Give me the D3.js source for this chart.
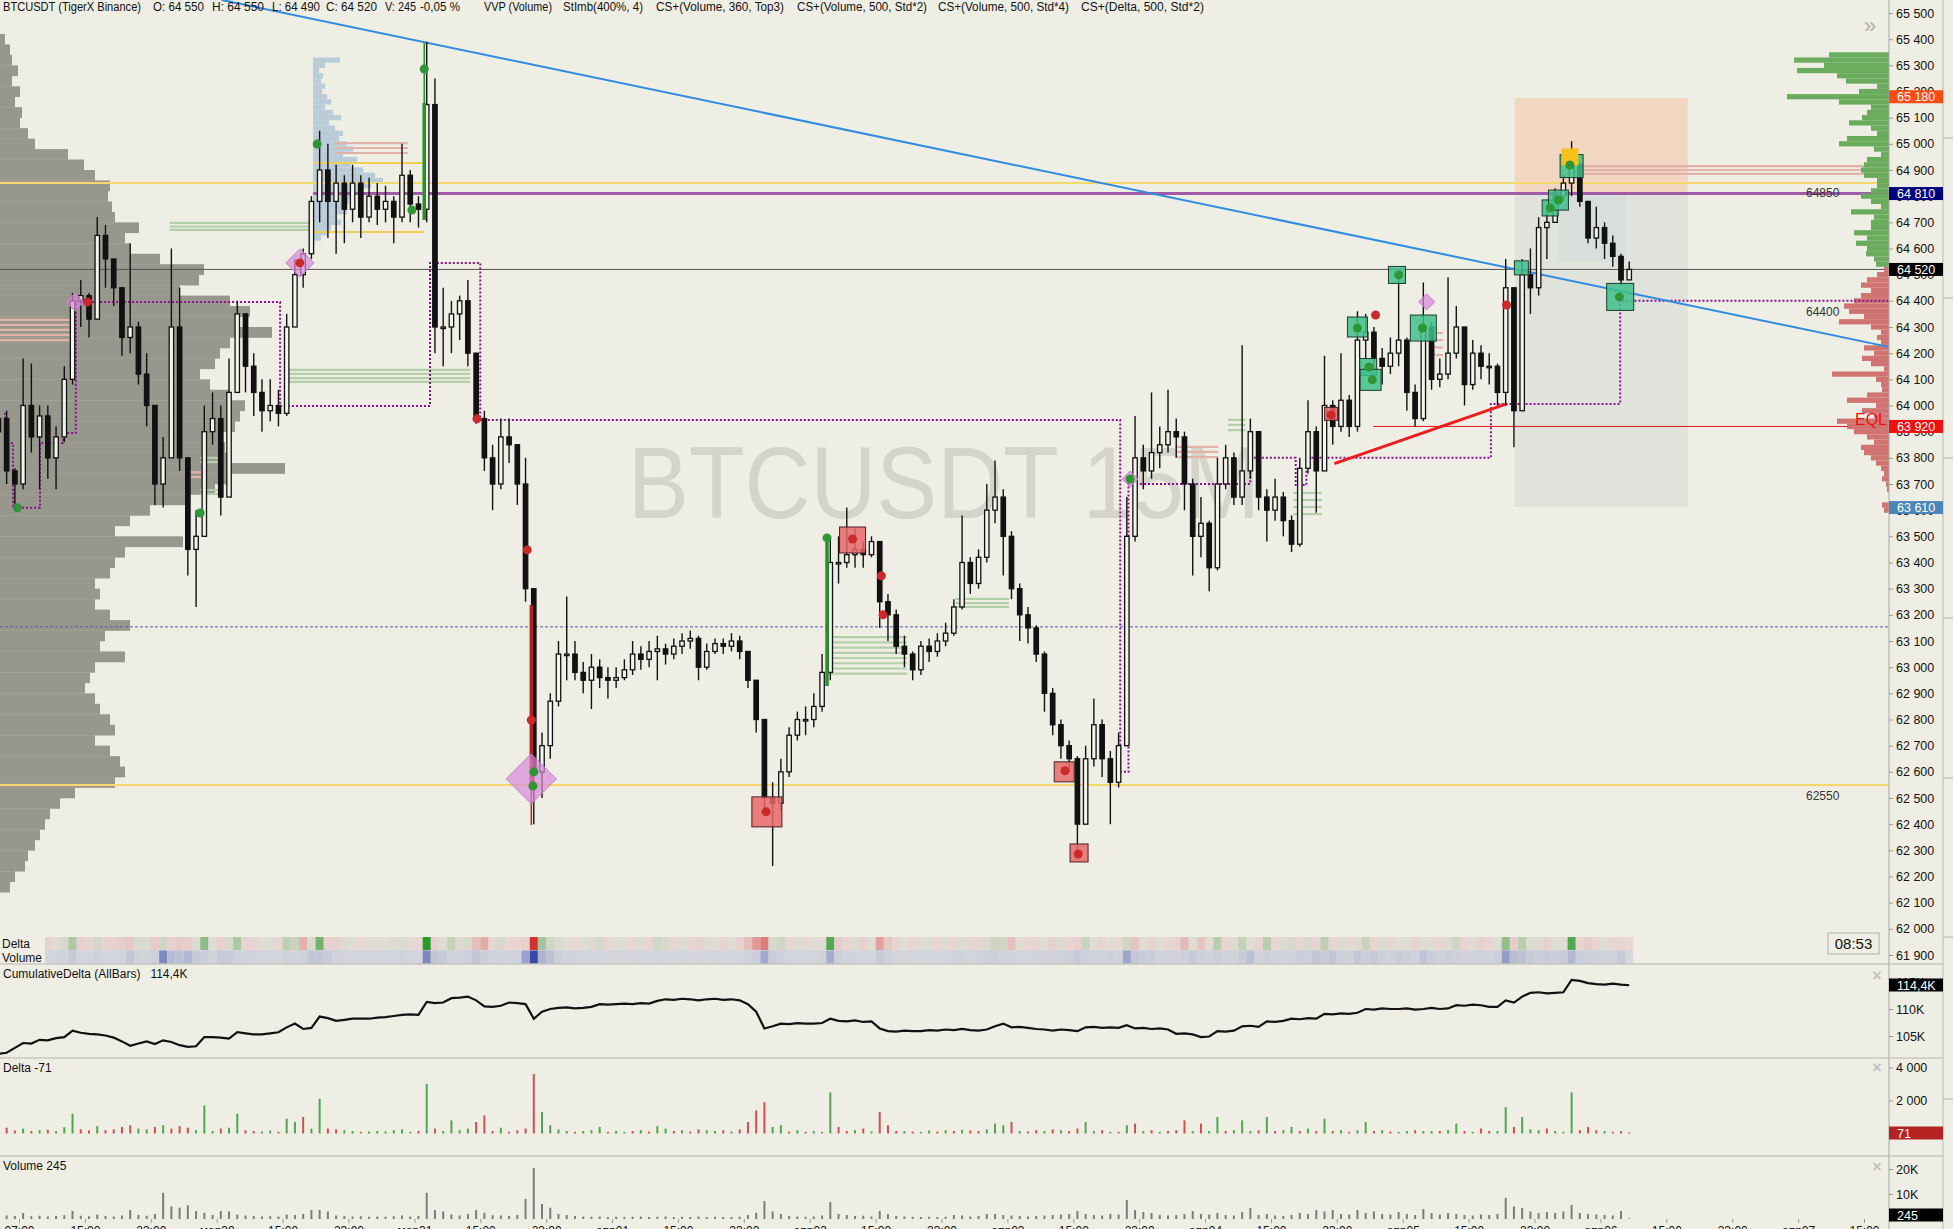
<!DOCTYPE html>
<html><head><meta charset="utf-8">
<script src="https://cdn.jsdelivr.net/npm/d3@7"></script>
<style>html,body{margin:0;padding:0;background:#efeee4;overflow:hidden}text{font-family:"Liberation Sans",Arial,sans-serif}</style>
</head><body>
<svg id="c" width="1953" height="1229"></svg>
<script>
// ---------------- DATA (hourly bars) ----------------
const closes = [63950,63750,63700,64000,63880,63960,63800,63880,64100,64400,
64420,64330,64650,64560,64450,64260,64300,64120,64000,63700,
63800,64300,63800,63450,63500,63900,63950,63650,64050,64350,
64150,64050,63980,64000,63970,64300,64500,64580,64780,64900,
64780,64850,64750,64850,64720,64800,64750,64780,64720,64880,
64770,64750,65150,64300,64300,64350,64400,64200,63950,63800,
63700,63880,63850,63700,63300,62600,62700,62870,63050,63050,
62980,62950,63000,62960,62950,62960,62990,63050,63030,63060,
63070,63050,63080,63100,63110,63000,63060,63090,63080,63100,
63060,62950,62800,62500,62480,62600,62740,62800,62800,62850,
62980,63400,63400,63430,63450,63430,63480,63250,63200,63080,
63050,62990,63080,63060,63100,63130,63230,63400,63320,63420,
63600,63650,63500,63300,63200,63150,63050,62900,62780,62700,
62650,62400,62650,62780,62650,62560,62700,63500,63800,63750,
63820,63850,63900,63880,63700,63500,63550,63380,63700,63800,
63650,63750,63900,63650,63600,63650,63560,63470,63760,63900,
63750,64000,63920,64020,63920,64250,64280,64180,64150,64200,
64250,64050,63950,64300,64100,64120,64200,64300,64080,64200,
64150,64150,64050,64450,63980,64500,64450,64680,64700,64800,
64850,64920,64780,64640,64680,64620,64570,64480,64520];
const highs = [64000,63980,63760,64180,64160,64000,64000,63920,64150,64430,
64480,64430,64720,64690,64550,64450,64620,64320,64200,64000,
63880,64600,64450,63750,63600,64000,64050,64000,64180,64400,
64350,64200,64100,64100,64060,64350,64560,64600,64800,65050,
65000,64920,64880,64920,64880,64870,64850,64840,64800,65000,
64900,64800,65390,65250,64450,64400,64420,64480,64200,63980,
63850,63950,63950,63830,63800,63250,62750,62900,63100,63270,
63100,63020,63050,63030,63000,63000,63030,63100,63080,63100,
63120,63090,63110,63130,63140,63120,63090,63110,63110,63130,
63120,63060,62950,62800,62560,62650,62770,62830,62850,62900,
63050,63500,63500,63610,63530,63480,63500,63480,63280,63220,
63120,63060,63100,63110,63130,63170,63260,63580,63420,63450,
63700,63790,63680,63520,63320,63230,63160,63060,62920,62800,
62720,62660,62700,62880,62800,62680,62750,63650,63960,63850,
64050,63920,64060,63950,63900,63720,63650,63560,63800,63850,
63820,64230,63950,63900,63680,63720,63670,63580,63800,64020,
63920,64190,64020,64200,64040,64360,64350,64300,64220,64260,
64500,64260,64080,64470,64320,64180,64490,64380,64300,64250,
64230,64200,64160,64560,64450,64560,64600,64720,64740,64830,
64880,65010,64930,64780,64760,64700,64650,64580,64550];
const lows = [63880,63700,63610,63680,63820,63680,63720,63680,63860,64080,
64300,64260,64330,64450,64380,64190,64200,64080,63920,63620,
63610,63800,63750,63350,63230,63500,63850,63580,63650,64050,
64050,63960,63900,63940,63920,63960,64300,64450,64560,64700,
64640,64580,64620,64700,64640,64700,64690,64700,64620,64700,
64700,64680,64700,64200,64150,64200,64250,64150,63930,63750,
63600,63680,63780,63620,63250,62400,62500,62650,62850,62950,
62950,62900,62840,62920,62880,62920,62950,62970,62990,63000,
62950,63010,63030,63050,63070,62950,62990,63050,63050,63060,
63030,62920,62750,62450,62240,62450,62580,62720,62740,62770,
62830,62950,63320,63380,63380,63380,63420,63150,63100,63050,
63000,62950,62970,63020,63040,63080,63120,63220,63280,63300,
63400,63550,63350,63260,63100,63090,63020,62830,62740,62650,
62600,62270,62450,62620,62580,62400,62540,62700,63480,63680,
63720,63760,63820,63800,63600,63350,63420,63290,63370,63680,
63620,63620,63720,63600,63480,63560,63500,63440,63460,63740,
63590,63750,63850,63900,63880,63900,64180,64100,64080,64120,
64150,63980,63920,63940,64060,64070,64100,64180,64000,64060,
64100,64080,64000,64000,63840,63980,64350,64420,64560,64700,
64780,64800,64760,64620,64600,64560,64530,64460,64490];
const cumDelta = [101.7,101.9,102.8,103.7,103.6,104.3,104.2,104.6,104.8,106.0,
105.6,105.4,105.3,105.1,104.7,104.0,103.2,103.6,104.0,103.5,
104.2,103.9,103.3,103.0,103.1,104.8,104.8,104.7,104.5,105.7,
105.5,105.3,105.3,105.5,105.7,106.6,107.3,106.3,106.5,108.6,
108.3,107.8,108.0,108.2,108.2,108.2,108.4,108.5,108.7,108.9,
109.0,108.9,111.3,111.1,111.2,112.0,112.1,112.3,111.6,110.5,
110.4,110.6,111.2,111.1,110.9,108.2,109.5,110.0,110.2,110.3,
110.1,110.2,110.4,110.9,110.8,110.9,111.0,110.9,111.1,111.0,
111.5,111.8,111.7,111.9,111.8,111.6,111.8,111.9,111.7,111.8,
111.6,110.9,109.5,106.4,106.8,107.3,107.2,107.4,107.3,107.3,
107.4,108.2,107.8,107.7,107.9,107.6,107.7,106.4,105.9,105.8,
106.0,105.9,105.9,106.1,106.0,106.2,106.1,106.3,106.1,106.0,
106.2,106.8,107.3,106.6,106.7,106.5,106.3,106.2,106.0,106.2,
106.1,105.9,106.6,106.7,106.5,106.6,106.5,107.0,106.4,106.5,
106.3,106.4,106.2,105.4,105.5,105.3,104.8,104.9,105.9,105.8,
106.0,106.8,106.9,106.7,107.7,107.6,107.8,108.2,108.1,108.3,
108.2,109.1,109.0,109.2,109.1,109.3,110.0,109.9,110.1,110.0,
110.0,110.1,109.9,110.0,110.2,110.0,110.1,110.7,110.6,110.8,
110.7,110.4,110.4,111.6,111.2,112.3,113.0,113.1,112.9,113.0,
113.1,115.4,115.2,114.8,114.6,114.5,114.7,114.5,114.4];
const deltas = [-120,-350,-180,300,-150,200,-220,150,380,1200,
-250,-180,450,-200,-250,-400,-500,300,250,-400,
500,-300,-450,-350,200,1700,150,-300,350,1200,
-200,-150,120,180,-100,900,700,-1000,300,2100,
-300,-250,200,150,-100,120,150,130,200,250,
100,-150,3000,-300,150,800,200,300,-700,-1100,
-150,350,-100,-200,-300,-3600,1300,500,250,150,
-100,150,200,400,-100,150,100,-150,200,-120,
450,300,-150,200,-120,-250,200,150,-200,120,
-250,-700,-1400,-1900,400,500,-120,200,-100,150,
100,2500,-400,-150,200,-300,130,-1300,-500,-150,
150,-120,100,180,-120,200,-150,220,-180,-150,
250,600,500,-700,150,-120,-200,150,-250,200,
-150,-300,700,150,-200,100,-100,500,-600,150,
-200,100,-150,-200,-800,150,-600,150,1000,-150,
200,800,150,-200,1000,-150,200,400,-150,300,
-150,900,-150,200,-100,200,700,-150,200,-120,
100,150,-200,150,150,-150,200,600,-150,100,
-300,-150,150,1600,-400,1000,250,200,-300,150,
100,2500,-200,-400,-200,150,-100,-150,-71];
const volumes = [1.0,1.4,1.2,2.4,1.1,1.3,1.0,1.2,1.5,3.2,
1.3,1.1,1.8,1.2,1.0,1.4,3.6,1.6,1.3,2.0,
10.5,5.0,4.5,5.5,3.2,2.5,1.6,3.2,3.0,1.8,
1.4,1.2,1.0,1.1,1.0,1.8,1.6,2.0,3.6,3.6,
3.0,1.4,1.2,1.0,1.1,0.9,1.0,0.9,1.1,1.4,
1.0,1.2,10.5,3.6,3.0,1.8,1.4,2.0,3.6,2.5,
1.5,1.4,1.2,1.6,8.0,20.4,6.0,4.5,2.0,1.6,
1.2,1.0,0.9,1.0,0.8,0.9,0.8,0.9,1.0,0.8,
0.9,1.0,0.8,0.9,0.8,1.0,0.8,0.9,0.8,0.8,
0.9,1.6,2.5,7.2,3.0,2.0,1.2,1.0,0.9,1.0,
1.4,6.8,2.0,1.6,1.2,1.3,1.0,3.2,2.0,1.2,
1.0,0.9,0.8,0.9,0.8,0.9,1.6,1.4,1.0,1.2,
2.0,2.0,1.6,1.4,1.2,1.0,1.2,1.4,1.6,1.8,
2.0,3.2,2.0,1.6,1.4,2.0,1.8,7.6,3.6,2.8,
2.4,1.6,1.4,1.6,2.0,3.2,2.0,1.8,2.4,1.6,
1.4,2.8,4.4,1.6,2.0,1.4,1.2,1.6,2.4,2.0,
3.6,3.0,3.6,2.0,1.8,3.6,2.4,3.0,2.0,1.8,
2.8,2.0,1.6,4.0,2.4,1.8,2.4,2.0,1.6,1.4,
1.8,1.6,2.0,8.4,5.0,4.4,3.0,2.4,2.8,2.4,
3.0,5.6,2.4,2.0,1.8,1.6,1.4,3.2,0.245];

// composite (left) volume profile, 40-point rows from 65420 downwards
const leftProfile = [5,10,12,18,12,20,15,22,20,28,35,68,84,95,110,108,112,115,139,125,
130,160,204,199,180,230,250,240,272,230,220,215,200,210,230,245,240,235,220,225,
230,285,230,215,185,150,130,115,183,125,115,110,95,100,95,110,130,105,100,125,
95,90,85,95,100,110,115,95,110,120,125,115,75,60,50,45,40,35,28,25,15,10];
// session profile (right), 20-point rows
const profileBuy = [60,95,65,92,52,43,12,30,102,50,18,22,27,40,18,12,42,50,15,8,22,25,28,25,12,12,18,28,18,8,38,15,18,18,35,22,33,22,23,15,13];
const profileSell = [5,12,22,28,18,28,35,45,40,25,50,18,8,12,8,25,15,27,18,5,57,13,8,7,22,42,13,27,15,52,42,35,22,15,28,25,18,13,8,5,7,3,2,0,0,7,5];
// small profile of the consolidation range (20-point rows from 65320)
const rangeProfile = [27,12,6,10,8,12,9,14,18,12,20,28,16,22,30,26,34,40,30,44,38,50,62,70,58,46,40,36,30,34,24,28,18,14,8];

const priceTicks = d3.range(61900, 65501, 100);
const tickLabels = ["07:00","15:00","23:00","мар30","15:00","23:00","мар31","15:00","23:00","апр01","15:00","23:00","апр02","15:00","23:00","апр03","15:00","23:00","апр04","15:00","23:00","апр05","15:00","23:00","апр06","15:00","23:00","апр07","15:00"];

// levels
const levelYellow = [64850, 62550];
const levelPurple = 64810;
const levelLast = 64520;
const levelDashed = 63154;
const levelEQL = 63920;
const levelLabels = [["64850",64850],["64400",64400],["62550",62550]];
const priceBadges = [[65180,"65 180","#ff4b14"],[64810,"64 810","#00007e"],[64520,"64 520","#000000"],[63920,"63 920","#ee1111"],[63610,"63 610","#4a86b8"]];

// drawings (bar index, price)
const trendBlue = [[27.1,65550],[229.5,64224]];
const trendRed = [[162.2,63778],[183.1,64006]];
const stair = [[0.8,63972],[0.8,63857],[1.77,63857],[1.77,63609],[5.05,63609],[5.05,63857],[7.85,63857],[7.85,63895],[9.4,63895],[9.4,64396],[34.2,64396],[34.2,63998],[52.4,63998],[52.4,64545],[58.5,64545],[58.5,63945],[136.2,63945],[136.2,62600],[137.2,62600],[137.2,63700],[152,63700],[152,63800],[157.5,63800],[157.5,63696],[158.8,63696],[158.8,63800],[181.2,63800],[181.2,64006],[196.9,64006],[196.9,64400],[229.5,64400]];
const zoneTarget = [184.1,205.1,65175,64808];
const zoneRisk = [184.1,205.1,64808,63612];
const zoneInner = [189.4,197.6,64808,64549];
const imbalanceBuy = [[20.8,38.2,[64698,64684,64671]],[35,57.3,[64136,64121,64105,64090]],[100.6,110.3,[63115,63095,63075,63055,63035,63015,62995,62975]],[116.2,122.7,[63261,63245,63230]],[149.3,151.4,[63945,63926,63906]],[157.2,160.7,[63666,63639,63612,63585]],[24.5,27.2,[63800,63784,63677,63662]]];
const imbalanceSell = [[0,8.7,[64327,64308,64289,64270,64250]],[40.9,49.7,[65003,64984,64965]],[142.9,148.1,[63842,63823,63803]],[173.8,175.4,[64277,64250,64222,64193]],[192.1,229.5,[64915,64900,64885]],[22.8,24.6,[63745,63727]]];
const vaLines = [38.2,51.7,[64927,64663]];
const clusterBars = [[51.7,64709,65156,65385,"up"],[64.7,63238,62535,62397,"down"],[100.6,62928,63498,63498,"up"]];
const boxesSell = [[93.3,62447,30],[103.7,63486,26],[129.4,62600,20],[131.2,62290,18],[161.8,63968,13]];
const boxesBuy = [[165,64300,20],[166.3,64147,17],[166.6,64098,21],[169.8,64499,17],[173,64296,26],[188.4,64755,16],[189.4,64785,20],[191,64915,23],[196.9,64415,27],[184.9,64526,14]];
const boxMax = [190.8,64950,17];
const diamonds = [[9.3,64396,9],[36.6,64545,14],[64.7,62573,25],[137.4,63719,8],[173.4,64396,8]];
const dotsBuy = [[2.3,63609],[24.5,63589],[38.7,64999],[50.2,64747],[51.7,65286],[65,62600],[64.9,62546],[100.6,63494],[137.4,63719],[165,64296],[166.4,64147],[166.8,64098],[170,64499],[172.9,64296],[188.4,64755],[189.4,64785],[190.8,64919],[196.8,64415]];
const dotsSell = [[10.8,64396],[36.6,64545],[58.1,63949],[64.2,63448],[64.7,62798],[93.2,62447],[103.7,63490],[107.2,63349],[107.4,63200],[129.5,62604],[131.1,62286],[161.8,63964],[167.2,64346],[183.1,64384]];

const header = [["BTCUSDT (TigerX Binance)",3,138],["O: 64 550",153,51],["H: 64 550",212,52],["L: 64 490",272,48],["C: 64 520",326,51],["V: 245",385,31],["-0,05 %",420,40],["VVP (Volume)",484,68],["StImb(400%, 4)",563,80],["CS+(Volume, 360, Top3)",656,128],["CS+(Volume, 500, Std*2)",797,130],["CS+(Volume, 500, Std*4)",938,131],["CS+(Delta, 500, Std*2)",1081,123]];

// ---------------- SCALES ----------------
const W=1953,H=1229,AX=1889,MAINB=963;
const svg=d3.select('#c');
const t0=Date.UTC(2024,2,29,7), hour=3600e3;
const x=d3.scaleUtc().domain([new Date(t0),new Date(t0+224*hour)]).range([19,1864]);
const barStart=Date.UTC(2024,2,29,4,30);
const xi=i=>x(new Date(barStart+i*hour));
const y=d3.scaleLinear().domain([61900,65500]).range([955,13]);
const yCD=d3.scaleLinear().domain([105,110]).range([1036,1009]);
const yD=d3.scaleLinear().domain([0,4000]).range([1133.5,1067.5]);
const yV=d3.scaleLinear().domain([0,20]).range([1219,1169]);
const pw=d3.scaleLinear().domain([0,100]).range([0,100]);
const fmt=d3.formatLocale({decimal:",",thousands:"\u00a0",grouping:[3],currency:["",""]}).format(",");

svg.append('rect').attr('width',W).attr('height',H).attr('fill','#efeee4');
const defs=svg.append('defs');
defs.append('clipPath').attr('id','cm').append('rect').attr('x',0).attr('y',0).attr('width',AX).attr('height',MAINB);
defs.append('clipPath').attr('id','cl').append('rect').attr('x',0).attr('y',964).attr('width',AX).attr('height',255);
const g=svg.append('g').attr('clip-path','url(#cm)');

// zones
const zr=(z,f)=>g.append('rect').attr('x',xi(z[0])).attr('width',xi(z[1])-xi(z[0])).attr('y',y(z[2])).attr('height',y(z[3])-y(z[2])).attr('fill',f);
zr(zoneTarget,'#f1d6c1'); zr(zoneRisk,'#dfe3dc'); zr(zoneInner,'#d7dedb');

// left composite profile
g.selectAll('.lp').data(leftProfile).join('rect').attr('x',0).attr('y',(d,k)=>y(65420-40*k)).attr('width',d=>pw(d)).attr('height',(d,k)=>y(65420-40*k-40)-y(65420-40*k)+0.3).attr('fill','#97978d');

// range profile (light blue)
g.selectAll('.rp').data(rangeProfile).join('rect').attr('x',xi(38.2)).attr('y',(d,k)=>y(65330-20*k)).attr('width',d=>pw(d)).attr('height',(d,k)=>y(65310-20*k)-y(65330-20*k)).attr('fill','#b4c8d6').attr('opacity',0.9);

// watermark
g.append('text').attr('x',628).attr('y',518).attr('font-size',102).attr('fill','#d4d4ca').attr('textLength',632).attr('lengthAdjust','spacingAndGlyphs').text('BTCUSDT 15M');

// levels
levelYellow.forEach(p=>g.append('line').attr('x1',0).attr('x2',AX).attr('y1',y(p)).attr('y2',y(p)).attr('stroke','#f3d86a').attr('stroke-width',2));
g.append('line').attr('x1',xi(38.2)).attr('x2',AX).attr('y1',y(levelPurple)).attr('y2',y(levelPurple)).attr('stroke','#a15aa6').attr('stroke-width',3);
g.append('line').attr('x1',0).attr('x2',AX).attr('y1',y(levelLast)).attr('y2',y(levelLast)).attr('stroke','#555').attr('stroke-width',1);
g.append('line').attr('x1',0).attr('x2',AX).attr('y1',y(levelDashed)).attr('y2',y(levelDashed)).attr('stroke','#5d5aa8').attr('stroke-width',1).attr('stroke-dasharray','3,2');
g.append('line').attr('x1',xi(166.9)).attr('x2',AX).attr('y1',y(levelEQL)).attr('y2',y(levelEQL)).attr('stroke','#e01818').attr('stroke-width',1);

// imbalance lines
const imb=(arr,col)=>arr.forEach(([a,b,ps])=>ps.forEach(p=>g.append('line').attr('x1',xi(a)).attr('x2',xi(b)).attr('y1',y(p)).attr('y2',y(p)).attr('stroke',col).attr('stroke-width',2.2)));
imb(imbalanceBuy,'#b3cfa8'); imb(imbalanceSell,'#e0b2a8');
vaLines[2].forEach(p=>g.append('line').attr('x1',xi(vaLines[0])).attr('x2',xi(vaLines[1])).attr('y1',y(p)).attr('y2',y(p)).attr('stroke','#f0d050').attr('stroke-width',2));

// right session profile
g.selectAll('.pb').data(profileBuy).join('rect').attr('x',d=>AX-pw(d)).attr('y',(d,k)=>y(65350-20*k)).attr('width',d=>pw(d)).attr('height',(d,k)=>y(65330-20*k)-y(65350-20*k)).attr('fill','#6aab5e');
g.selectAll('.ps').data(profileSell).join('rect').attr('x',d=>AX-pw(d)).attr('y',(d,k)=>y(64530-20*k)).attr('width',d=>pw(d)).attr('height',(d,k)=>y(64510-20*k)-y(64530-20*k)).attr('fill','#cf7470');

// staircase
const ln=d3.line().x(d=>xi(d[0])).y(d=>y(d[1]));
g.append('path').attr('d',ln(stair)).attr('fill','none').attr('stroke','#8a1290').attr('stroke-width',2).attr('stroke-dasharray','2,2');

// trendlines
g.append('path').attr('d',ln(trendBlue)).attr('stroke','#2f8be2').attr('stroke-width',2).attr('fill','none');
g.append('path').attr('d',ln(trendRed)).attr('stroke','#ee1c1c').attr('stroke-width',3).attr('fill','none');

// candles
const bars=closes.map((c,i)=>({i,o:i?closes[i-1]:63900,c,h:highs[i],l:lows[i]}));
const cg=g.append('g');
cg.selectAll('.w').data(bars).join('line').attr('x1',d=>xi(d.i)).attr('x2',d=>xi(d.i)).attr('y1',d=>y(Math.max(d.h,d.o,d.c))).attr('y2',d=>y(Math.min(d.l,d.o,d.c))).attr('stroke','#111').attr('stroke-width',1.4);
cg.selectAll('.b').data(bars).join('rect').attr('x',d=>xi(d.i)-2.2).attr('width',4.4).attr('y',d=>y(Math.max(d.o,d.c))).attr('height',d=>Math.max(1.5,Math.abs(y(d.o)-y(d.c)))).attr('fill',d=>d.c>=d.o?'#f4f3ec':'#111').attr('stroke','#111').attr('stroke-width',1.3);

// cluster-highlighted candles
clusterBars.forEach(([i,a,b,w,dir])=>{
  const col=dir==='up'?'#2b8f2b':'#b01e1e';
  g.append('line').attr('x1',xi(i)).attr('x2',xi(i)).attr('y1',y(a)).attr('y2',y(b)).attr('stroke',col).attr('stroke-width',3.5);
  g.append('line').attr('x1',xi(i)).attr('x2',xi(i)).attr('y1',y(b)).attr('y2',y(w)).attr('stroke',col).attr('stroke-width',1.5);
});

// boxes
const box=(arr,fill,stroke)=>arr.forEach(([i,p,s])=>g.append('rect').attr('x',xi(i)-s/2).attr('y',y(p)-s/2).attr('width',s).attr('height',s).attr('fill',fill).attr('fill-opacity',0.85).attr('stroke',stroke).attr('stroke-width',1));
box(boxesSell,'#e8696a','#4a2020'); box(boxesBuy,'#3fbf8a','#1b3d30');
g.append('rect').attr('x',xi(boxMax[0])-boxMax[2]/2).attr('y',y(boxMax[1])-boxMax[2]/2).attr('width',boxMax[2]).attr('height',boxMax[2]).attr('fill','#f6c21a');
diamonds.forEach(([i,p,s])=>g.append('path').attr('d',`M${xi(i)},${y(p)-s}L${xi(i)+s},${y(p)}L${xi(i)},${y(p)+s}L${xi(i)-s},${y(p)}Z`).attr('fill','#d98ad9').attr('fill-opacity',0.7).attr('stroke','#c878c8').attr('stroke-width',1));
dotsBuy.forEach(([i,p])=>g.append('circle').attr('cx',xi(i)).attr('cy',y(p)).attr('r',4.5).attr('fill','#2e9636'));
dotsSell.forEach(([i,p])=>g.append('circle').attr('cx',xi(i)).attr('cy',y(p)).attr('r',4.5).attr('fill','#cc2a2a'));

// level texts
levelLabels.forEach(([t,p])=>g.append('text').attr('x',1806).attr('y',y(p)+(p===64850?14:15)).attr('font-size',12).attr('fill','#333').text(t));
g.append('text').attr('x',1887).attr('y',y(levelEQL)-1.5).attr('text-anchor','end').attr('font-size',16).attr('fill','#ee1111').text('EQL');

// Delta / Volume strip
const sg=svg.append('g');
sg.append('rect').attr('x',45).attr('y',937).attr('width',xi(198)+3-45).attr('height',27).attr('fill','#dcdad4');
const dcol=d=>d>=0?d3.interpolateRgb('#e2ddd6','#2e9a2e')(Math.min(1,Math.pow(d/3000,1.3))):d3.interpolateRgb('#e8d8d5','#d43030')(Math.min(1,Math.pow(-d/3000,1.3)));
const vcol=v=>d3.interpolateRgb('#d6d8de','#3848a8')(Math.min(1,Math.pow(v/16,1.4)));
sg.selectAll('.sd').data(deltas).join('rect').attr('x',(d,i)=>Math.max(45,xi(i)-4)).attr('width',(d,i)=>xi(i)+4-Math.max(45,xi(i)-4)).attr('y',937).attr('height',13).attr('fill',d=>dcol(d));
sg.selectAll('.sv').data(volumes).join('rect').attr('x',(d,i)=>Math.max(45,xi(i)-4)).attr('width',(d,i)=>xi(i)+4-Math.max(45,xi(i)-4)).attr('y',950.5).attr('height',13).attr('fill',d=>vcol(d));
sg.append('text').attr('x',2).attr('y',948).attr('font-size',12).attr('fill','#111').text('Delta');
sg.append('text').attr('x',2).attr('y',962).attr('font-size',12).attr('fill','#111').text('Volume');

// lower panes
const lg=svg.append('g').attr('clip-path','url(#cl)');
lg.append('path').attr('d',d3.line().x((d,i)=>xi(i)).y(d=>yCD(d))(cumDelta)).attr('fill','none').attr('stroke','#111').attr('stroke-width',2.2);
lg.selectAll('.db').data(deltas).join('line').attr('x1',(d,i)=>xi(i)).attr('x2',(d,i)=>xi(i)).attr('y1',yD(0)).attr('y2',d=>yD(Math.abs(d))).attr('stroke',d=>d>=0?'#4fa64f':'#d0504f').attr('stroke-width',2);
lg.selectAll('.vb').data(volumes).join('line').attr('x1',(d,i)=>xi(i)).attr('x2',(d,i)=>xi(i)).attr('y1',yV(0)).attr('y2',d=>yV(d)).attr('stroke','#7c7c7c').attr('stroke-width',2);
[[978,"CumulativeDelta (AllBars)   114,4K"],[1072,"Delta -71"],[1170,"Volume 245"]].forEach(([yy,t])=>svg.append('text').attr('x',3).attr('y',yy).attr('font-size',12).attr('fill','#111').attr('xml:space','preserve').text(t));

// separators and axis frame
[964,1058,1156].forEach(yy=>svg.append('line').attr('x1',0).attr('x2',1943).attr('y1',yy).attr('y2',yy).attr('stroke','#b5b5ae').attr('stroke-width',1));
svg.append('line').attr('x1',AX).attr('x2',AX).attr('y1',0).attr('y2',H).attr('stroke','#a8a8a2');
svg.append('line').attr('x1',1943).attr('x2',1943).attr('y1',0).attr('y2',H).attr('stroke','#b8b8b2');
[138,298,458,618,778,937,1099].forEach(yy=>svg.append('line').attr('x1',1943).attr('x2',1953).attr('y1',yy).attr('y2',yy).attr('stroke','#b8b8b2'));

// price axis
const pa=svg.append('g').attr('transform',`translate(${AX},0)`).call(d3.axisRight(y).tickValues(priceTicks).tickSize(4).tickPadding(3).tickFormat(d=>fmt(d)));
pa.select('.domain').remove();
pa.selectAll('text').attr('font-size',12.5).attr('fill','#111').style('font-family','"Liberation Sans",Arial,sans-serif');
pa.selectAll('line').attr('stroke','#999');
const sub=(sc,vals,f)=>{const a=svg.append('g').attr('transform',`translate(${AX},0)`).call(d3.axisRight(sc).tickValues(vals).tickSize(4).tickPadding(3).tickFormat(f));a.select('.domain').remove();a.selectAll('text').attr('font-size',12.5).attr('fill','#111').style('font-family','"Liberation Sans",Arial,sans-serif');a.selectAll('line').attr('stroke','#999');};
sub(yCD,[105,110,115],d=>d+'K');
sub(yD,[2000,4000],d=>fmt(d));
sub(yV,[10,20],d=>d+'K');

// badges
const badge=(yy,t,col)=>{svg.append('rect').attr('x',AX).attr('y',yy-6.5).attr('width',54).attr('height',13).attr('fill',col);svg.append('text').attr('x',AX+8).attr('y',yy+4.5).attr('font-size',12.5).attr('fill','#fff').text(t);};
priceBadges.forEach(([p,t,c])=>badge(y(p),t,c));
badge(985,"114,4K","#000"); badge(1133,"71","#b42222"); badge(1215,"245","#000");

// time axis
const tickTimes=tickLabels.map((d,k)=>new Date(t0+k*8*hour));
const ta=svg.append('g').attr('transform','translate(0,1219)').call(d3.axisBottom(x).tickValues(tickTimes).tickSize(4).tickPadding(3).tickFormat((d,k)=>tickLabels[k]));
ta.select('.domain').remove();
ta.selectAll('text').attr('font-size',12).attr('fill','#111').style('font-family','"Liberation Sans",Arial,sans-serif');
ta.selectAll('line').attr('stroke','#999');

// misc
svg.append('text').attr('x',1864).attr('y',33).attr('font-size',22).attr('fill','#b0b0aa').text('»');
svg.append('rect').attr('x',1828).attr('y',933).attr('width',51).attr('height',21).attr('fill','#efeee4').attr('stroke','#b0b0aa');
svg.append('text').attr('x',1853.5).attr('y',949).attr('text-anchor','middle').attr('font-size',15).attr('fill','#111').text('08:53');
[976,1068,1167].forEach(yy=>svg.append('text').attr('x',1877).attr('y',yy+5).attr('text-anchor','middle').attr('font-size',16).attr('font-weight','bold').attr('fill','#c2c2bc').text('×'));

// header
header.forEach(([t,xx,w])=>svg.append('text').attr('x',xx).attr('y',11).attr('font-size',12).attr('fill','#111').attr('textLength',w).attr('lengthAdjust','spacingAndGlyphs').attr('xml:space','preserve').text(t));
</script>
</body></html>
